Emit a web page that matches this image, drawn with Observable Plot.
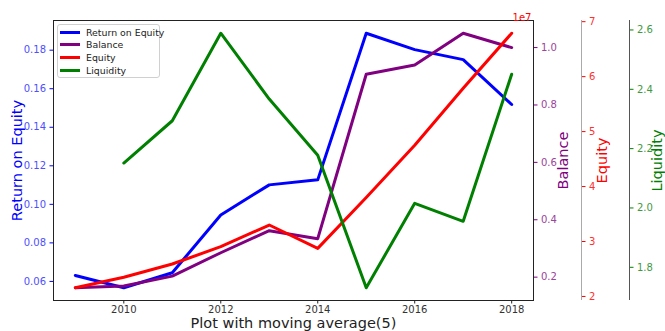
<!DOCTYPE html>
<html>
<head>
<meta charset="utf-8">
<script src="https://cdn.jsdelivr.net/npm/d3@7"></script>
<script src="https://cdn.jsdelivr.net/npm/@observablehq/plot@0.6"></script>
<style>
  body { margin: 0; background: #fff; }
  #chart { position: relative; width: 665px; height: 331px; font-family: "DejaVu Sans", sans-serif; }
  #legend {
    position: absolute; left: 57px; top: 24px; width: 103px; height: 54px;
    border: 1px solid #d0d0d0; border-radius: 3px; background: rgba(255,255,255,0.8);
    font: 9.4px "DejaVu Sans", sans-serif; color: #222; box-sizing: border-box;
  }
  .item { position: absolute; left: 2px; height: 12px; display: flex; align-items: center; white-space: nowrap; }
  .swatch { width: 20px; height: 3px; margin-right: 6px; flex: none; }
</style>
</head>
<body>
<div id="chart"></div>
<script>
// Yearly series (5-year moving averages)
const years = [2009, 2010, 2011, 2012, 2013, 2014, 2015, 2016, 2017, 2018];
const returnOnEquity = [0.0631, 0.0567, 0.0645, 0.0945, 0.1101, 0.1127, 0.1888, 0.1803, 0.1751, 0.1518];
const balance = [1630000, 1690000, 2035000, 2850000, 3620000, 3340000, 9070000, 9390000, 10500000, 10000000];
const equity = [21580000, 23500000, 25900000, 29060000, 33000000, 28750000, 38000000, 47500000, 57900000, 67900000];
const liquidityYears = [2010, 2011, 2012, 2013, 2014, 2015, 2016, 2017, 2018];
const liquidity = [2.1515, 2.294, 2.589, 2.367, 2.178, 1.731, 2.0155, 1.955, 2.451];

// Labels and tick values
const seriesNames = ["Return on Equity", "Balance", "Equity", "Liquidity"];
const seriesColors = ["blue", "purple", "red", "green"];
const xLabel = "Plot with moving average(5)";
const xTicks = [2010, 2012, 2014, 2016, 2018];
const roeTicks = [0.06, 0.08, 0.10, 0.12, 0.14, 0.16, 0.18];
const balanceTicks = [2e6, 4e6, 6e6, 8e6, 10e6];
const equityTicks = [2e7, 3e7, 4e7, 5e7, 6e7, 7e7];
const liquidityTicks = [1.8, 2.0, 2.2, 2.4, 2.6];
const offsetLabel = "1e7";

// autoscale with 5% margins on each side
const pad = (values) => {
  const [lo, hi] = d3.extent(values);
  const m = (hi - lo) * 0.05;
  return [lo - m, hi + m];
};
const xDomain = pad(years);

const rows = years.map((year, i) => ({year, roe: returnOnEquity[i], balance: balance[i], equity: equity[i]}));
const liqRows = liquidityYears.map((year, i) => ({year, liquidity: liquidity[i]}));

const chart = document.getElementById("chart");
const common = {
  width: 665, height: 331,
  marginLeft: 53, marginRight: 132, marginTop: 20, marginBottom: 31,
  style: {position: "absolute", left: "0", top: "0", background: "none", overflow: "visible",
          fontFamily: "DejaVu Sans, sans-serif"}
};
const tickStyle = {tickSize: 3.5, tickPadding: 4, fontSize: 10, label: null};
const sideLabel = (text, color, dx) =>
  Plot.text([text], {frameAnchor: dx < 0 ? "left" : "right", textAnchor: "middle", lineAnchor: "middle",
                     rotate: -90, dx, fontSize: 14.5, fill: color});

// host axes: Return on Equity and the x axis
chart.append(Plot.plot({
  ...common,
  x: {domain: xDomain},
  y: {domain: pad(returnOnEquity)},
  marks: [
    Plot.axisX(xTicks, {...tickStyle, tickPadding: 2, tickFormat: "d", stroke: "#222", fill: "#333"}),
    Plot.axisY(roeTicks, {...tickStyle, anchor: "left", tickFormat: ".2f", stroke: "blue", fill: "#4f4fff"}),
    Plot.frame({stroke: "#222"}),
    sideLabel(seriesNames[0], "blue", -36),
    Plot.text([xLabel], {frameAnchor: "bottom", lineAnchor: "middle", dy: 22.5, fontSize: 14.5, fill: "#222"}),
    Plot.line(rows, {x: "year", y: "roe", stroke: seriesColors[0], strokeWidth: 3})
  ]
}));

// twin axes: Balance on the right spine
chart.append(Plot.plot({
  ...common,
  x: {domain: xDomain, axis: null},
  y: {domain: pad(balance)},
  marks: [
    Plot.axisY(balanceTicks, {...tickStyle, anchor: "right", tickFormat: d => (d / 1e7).toFixed(1), stroke: "purple", fill: "#9a449a"}),
    sideLabel(seriesNames[1], "purple", 30),
    Plot.line(rows, {x: "year", y: "balance", stroke: seriesColors[1], strokeWidth: 3})
  ]
}));

// twin axes: Equity, spine offset to the right
chart.append(Plot.plot({
  ...common,
  x: {domain: xDomain, axis: null},
  y: {domain: pad(equity)},
  marks: [
    Plot.ruleX([xDomain[1]], {dx: 48, stroke: "#aaa"}),
    Plot.axisY(equityTicks, {...tickStyle, anchor: "right", dx: 48, tickFormat: d => String(d / 1e7), stroke: "red", fill: "#ff3030"}),
    sideLabel(seriesNames[2], "red", 69),
    Plot.text([offsetLabel], {frameAnchor: "top-right", textAnchor: "end", dx: -2, dy: -7, fontSize: 10, fill: "red"}),
    Plot.line(rows, {x: "year", y: "equity", stroke: seriesColors[2], strokeWidth: 3})
  ]
}));

// twin axes: Liquidity, spine offset further right
chart.append(Plot.plot({
  ...common,
  x: {domain: xDomain, axis: null},
  y: {domain: pad(liquidity)},
  marks: [
    Plot.ruleX([xDomain[1]], {dx: 96, stroke: "#555"}),
    Plot.axisY(liquidityTicks, {...tickStyle, anchor: "right", dx: 96, tickFormat: ".1f", stroke: "green", fill: "#3f9a3f"}),
    sideLabel(seriesNames[3], "green", 123.5),
    Plot.line(liqRows, {x: "year", y: "liquidity", stroke: seriesColors[3], strokeWidth: 3})
  ]
}));

// legend box in the upper-left corner of the host axes
const legend = document.createElement("div");
legend.id = "legend";
seriesNames.forEach((name, i) => {
  const item = document.createElement("div");
  item.className = "item";
  item.style.top = (1 + i * 12.9) + "px";
  const sw = document.createElement("span");
  sw.className = "swatch";
  sw.style.background = seriesColors[i];
  const label = document.createElement("span");
  label.textContent = name;
  item.append(sw, label);
  legend.append(item);
});
chart.append(legend);
</script>
</body>
</html>
